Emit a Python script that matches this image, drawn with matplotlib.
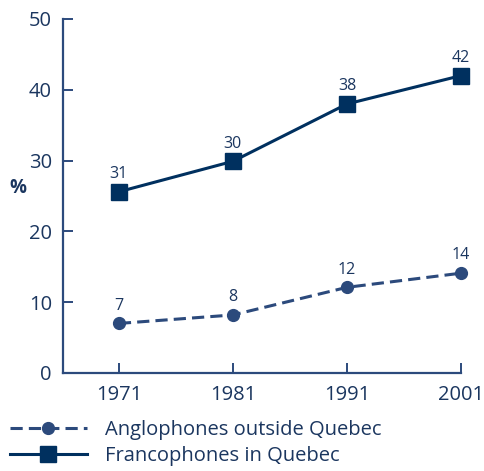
import matplotlib.pyplot as plt

plt.rcParams['font.family'] = ['Open Sans', 'DejaVu Sans']

YEARS = [1971, 1981, 1991, 2001]
FRANCO_VALUES = [25.6, 29.9, 38.0, 42.0]
FRANCO_LABELS = ["31", "30", "38", "42"]
ANGLO_VALUES = [7.0, 8.2, 12.1, 14.1]
ANGLO_LABELS = ["7", "8", "12", "14"]
SERIES_NAMES = ["Anglophones outside Quebec", "Francophones in Quebec"]

NAVY = "#00305f"
BLUE = "#2c4a7c"
TEXT = "#1b365f"


def main():
    fig = plt.figure(figsize=(4.85, 4.71), dpi=100)
    ax = fig.add_axes([63 / 485, 1 - 373 / 471, (461 - 63) / 485, (373 - 19) / 471])

    h_anglo, = ax.plot(YEARS, ANGLO_VALUES, color=BLUE, lw=2.2, ls=(0, (4, 2)),
                       marker="o", ms=8.5, mfc=BLUE, mec=BLUE, clip_on=False,
                       label=SERIES_NAMES[0])
    h_franco, = ax.plot(YEARS, FRANCO_VALUES, color=NAVY, lw=2.2,
                        marker="s", ms=11, mfc=NAVY, mec=NAVY, clip_on=False,
                        label=SERIES_NAMES[1])

    for x, y, t in zip(YEARS, FRANCO_VALUES, FRANCO_LABELS):
        ax.annotate(t, (x, y), xytext=(0, 7), textcoords="offset points",
                    ha="center", va="bottom", fontsize=11.5, color=TEXT)
    for x, y, t in zip(YEARS, ANGLO_VALUES, ANGLO_LABELS):
        ax.annotate(t, (x, y), xytext=(0, 7), textcoords="offset points",
                    ha="center", va="bottom", fontsize=11.5, color=TEXT)

    ax.set_xlim(1966.1, 2001)
    ax.set_ylim(0, 50)
    ax.set_xticks(YEARS)
    ax.set_yticks(range(0, 51, 10))
    for side in ("top", "right"):
        ax.spines[side].set_visible(False)
    for side in ("left", "bottom"):
        ax.spines[side].set_color(BLUE)
        ax.spines[side].set_linewidth(1.6)
    ax.tick_params(direction="in", length=7, width=1.4, color=BLUE,
                   labelcolor=TEXT, labelsize=14.5)
    ax.tick_params(axis="y", pad=8)
    ax.tick_params(axis="x", pad=9)

    fig.text(18 / 485, 1 - 188 / 471, "%", fontsize=13.5, fontweight="bold",
             color=TEXT, ha="center", va="center")

    fig.legend(handles=[h_anglo, h_franco], loc="upper left",
               bbox_to_anchor=(10 / 485, 1 - 420 / 471), frameon=False,
               fontsize=14.5, handlelength=3.8, handletextpad=0.9,
               labelspacing=0.3, borderpad=0, borderaxespad=0,
               labelcolor=TEXT)

    fig.savefig("out.png", dpi=100)


if __name__ == "__main__":
    main()
